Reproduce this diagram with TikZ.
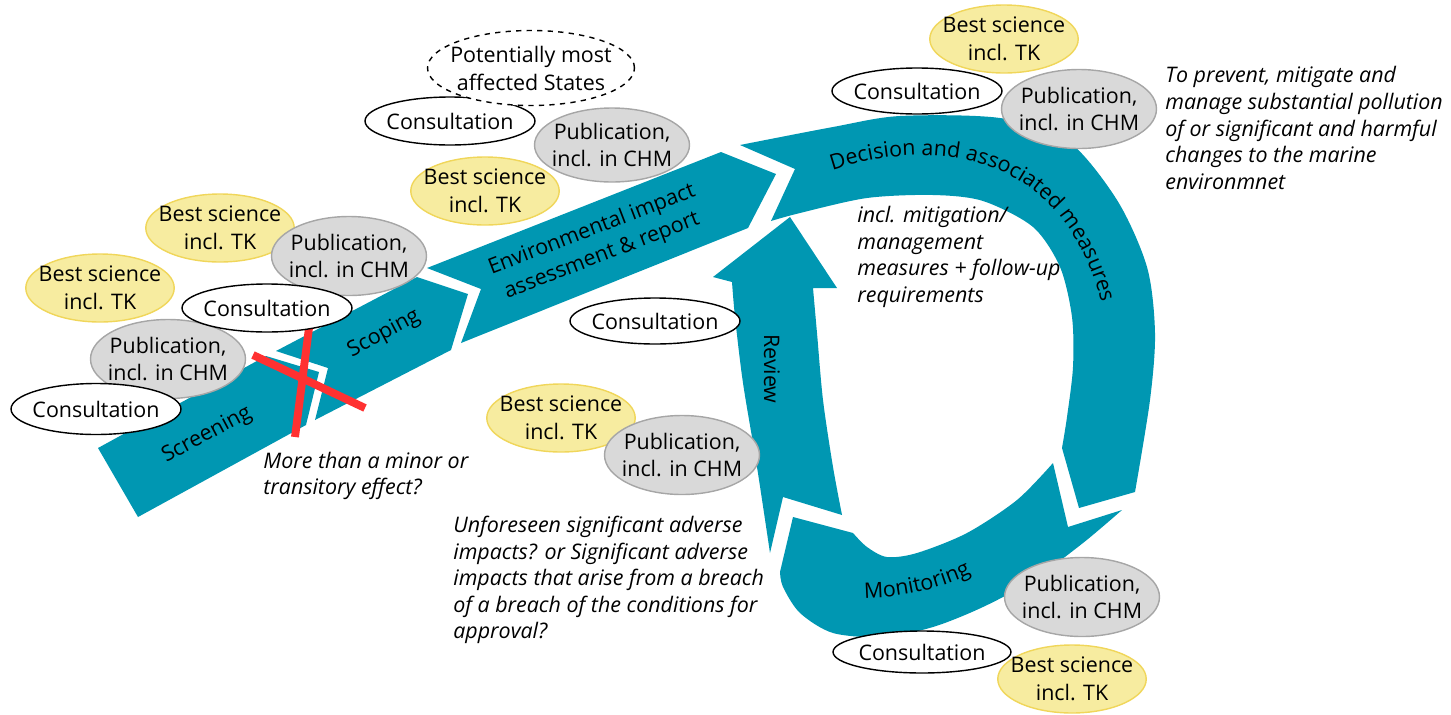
\documentclass[tikz,border=0pt]{standalone}
\usepackage{fontspec}
\setmainfont{Open Sans}
\usetikzlibrary{shapes.geometric,decorations.text}

\definecolor{stageblue}{RGB}{0,151,178}
\definecolor{pubgray}{RGB}{217,217,217}
\definecolor{publine}{RGB}{166,166,166}
\definecolor{tkyellow}{RGB}{247,236,160}
\definecolor{tkline}{RGB}{240,214,90}
\definecolor{xred}{RGB}{255,49,49}

\newcommand{\bubblefont}{\fontsize{12.2}{15.9}\selectfont}
\newcommand{\notefont}{\fontsize{12.2}{15.1}\selectfont\itshape}

\tikzstyle{every node}=[font=\bubblefont]
\tikzstyle{stage}=[fill=stageblue]
\tikzstyle{consult}=[ellipse,draw=black,fill=white,line width=0.8pt,inner sep=-5pt,minimum width=3.4cm,minimum height=0.96cm]
\tikzstyle{publication}=[ellipse,draw=publine,fill=pubgray,line width=0.8pt,inner sep=-5pt,minimum width=3.1cm,minimum height=1.58cm,align=center]
\tikzstyle{science}=[ellipse,draw=tkline,fill=tkyellow,line width=0.8pt,inner sep=-5pt,minimum width=2.7cm,minimum height=1.36cm,align=center]
\tikzstyle{states}=[ellipse,draw=black,dashed,fill=white,line width=0.8pt,inner sep=-5pt,minimum width=4.14cm,minimum height=1.5cm,align=center]
\tikzstyle{note}=[font=\notefont,align=left,anchor=west,inner sep=0pt]
\tikzstyle{redcross}=[draw=xred,line width=4.5pt]

\begin{document}
\begin{tikzpicture}[x=0.02cm,y=-0.02cm]
\useasboundingbox (0,0) rectangle (1451,714);

% straight stages
\fill[stage] (98,448) -- (266,356) -- (319,372) -- (306,425) -- (138,517) -- cycle;
\fill[stage] (276,351) -- (417,277) -- (468,294) -- (451,350) -- (315,420) -- (328,368) -- cycle;
\fill[stage] (427,268) -- (721,152) -- (776,174) -- (748,228) -- (461,343) -- (481,289) -- cycle;

% the loop
\fill[stage] (740,145) -- (795,169) -- (771,221) -- plot[smooth] coordinates {(771,221) (800,213) (867,198) (933,195) (983,201) (1033,227) (1060,267) (1072,317) (1073,367) (1067,417) (1062,448)}
  -- (1079,508) -- (1135,492) -- plot[smooth] coordinates {(1135,492) (1150,400) (1155,333) (1147,267) (1117,200) (1067,140) (1000,118) (900,116) (833,127) (740,145)} -- cycle;
\fill[stage] (1053,463) -- (1068,527) -- (1122,510) -- plot[smooth] coordinates {(1122,510) (1083,543) (1033,580) (983,607) (933,627) (883,637) (833,633) (800,613) (783,587) (780,572)}
  -- (793,517) -- (853,533) -- plot[smooth] coordinates {(853,533) (867,547) (887,557) (917,553) (967,533) (1017,500) (1053,463)} -- cycle;
\fill[stage] (770,553) -- (783,497) -- (842,515) -- plot[smooth] coordinates {(842,515) (833,467) (823,400) (817,333) (813,288)}
  -- (837,288) -- (790,217) -- (713,277) -- (732,282) -- plot[smooth] coordinates {(732,282) (735,317) (743,383) (757,467) (770,553)} -- cycle;

% no screening-out
\draw[redcross] (253,355) -- (365,408);
\draw[redcross] (309,328) -- (295,437);

\node[rotate=28] (screening) at (207,435) {Screening};
\node[rotate=28] (scoping) at (384,334) {Scoping};
\node[rotate=21,align=center] (eia) at (597,243) {Environmental impact\\assessment \& report};
\node[rotate=-90] (review) at (772,369) {Review};
\path[decorate,decoration={text along path,text={|\bubblefont|Decision and associated measures},text align=center}]
  (830,171) .. controls (920,140) and (1060,140) .. (1102,305);
\path[decorate,decoration={text along path,text={|\bubblefont|Monitoring},text align=center}]
  (860,598) .. controls (900,598) and (940,590) .. (975,572);

% notes
\node[note] (minor) at (263,476) {More than a minor or\\transitory effect?};
\node[note] (followup) at (857,257) {incl. mitigation/\\management\\measures + follow-up\\requirements};
\node[note] (purpose) at (1165,128) {To prevent, mitigate and\\manage substantial pollution\\of or significant and harmful\\changes to the marine\\environmnet};
\node[note] (unforeseen) at (453,580) {Unforeseen significant adverse\\impacts? or Significant adverse\\impacts that arise from a breach\\of a breach of the conditions for\\approval?};

% screening and scoping
\node[science] (tk1) at (100,288) {Best science\\incl. TK};
\node[science] (tk2) at (220,228) {Best science\\incl. TK};
\node[publication] (pub2) at (349,256) {Publication,\\incl. in CHM};
\node[publication] (pub1) at (168,359) {Publication,\\incl. in CHM};
\node[consult] (con2) at (267,308) {Consultation};
\node[consult,minimum height=1.02cm] (con1) at (96,409) {Consultation};

% assessment
\node[consult] (con3) at (450,121) {Consultation};
\node[states] (affected) at (531,68) {Potentially most\\affected States};
\node[publication,minimum height=1.48cm] (pub3) at (612,145) {Publication,\\incl. in CHM};
\node[science] (tk3) at (485,191) {Best science\\incl. TK};

% decision
\node[consult,minimum height=0.92cm] (con4) at (917,91) {Consultation};
\node[science] (tk4) at (1004,39) {Best science\\incl. TK};
\node[publication] (pub4) at (1079,109) {Publication,\\incl. in CHM};

% review
\node[science] (tk5) at (561,418) {Best science\\incl. TK};
\node[publication] (pub5) at (682,455) {Publication,\\incl. in CHM};
\node[consult,minimum height=0.92cm] (con5) at (655,321) {Consultation};

% monitoring
\node[publication] (pub6) at (1082,597) {Publication,\\incl. in CHM};
\node[consult,minimum width=3.56cm,minimum height=0.84cm] (con6) at (922,652) {Consultation};
\node[science] (tk6) at (1072,679) {Best science\\incl. TK};
\end{tikzpicture}
\end{document}
